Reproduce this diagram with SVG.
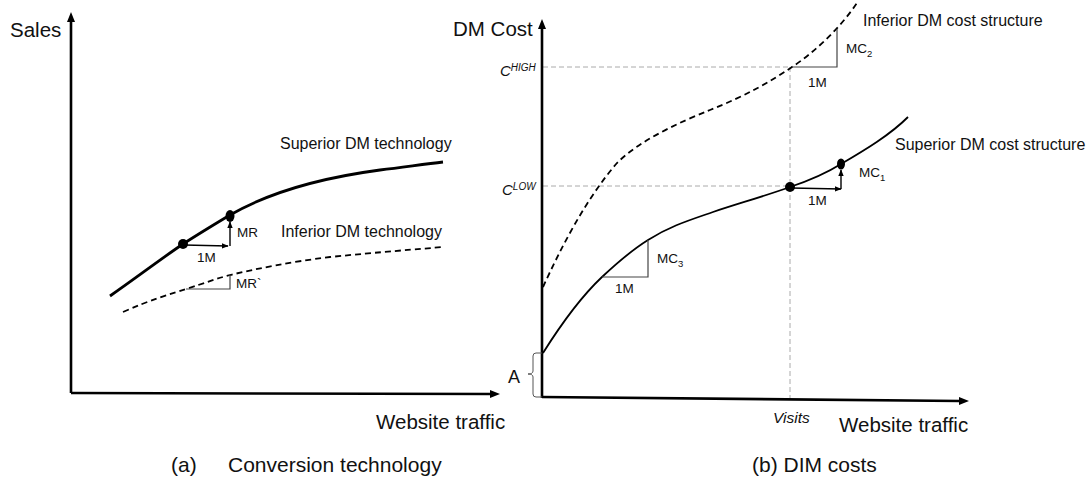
<svg xmlns="http://www.w3.org/2000/svg" width="1091" height="481" viewBox="0 0 1091 481">
<defs>
<marker id="sah" viewBox="0 0 10 10" refX="9" refY="5" markerWidth="5" markerHeight="5" orient="auto" markerUnits="strokeWidth"><path d="M0,1 L10,5 L0,9 z" fill="#000"/></marker>
</defs>
<style>
text{font-family:"Liberation Sans",Arial,sans-serif;fill:#111}
.ax{stroke:#000;stroke-width:2.6;fill:none}
.axh{fill:#000;stroke:none}
.big{font-size:20.5px}
.cap{font-size:21px}
.lbl{font-size:16px}
.sm{font-size:13.5px}
.it{font-style:italic}
.grid{stroke:#aaa;stroke-width:1;stroke-dasharray:5,3;fill:none}
.tri{stroke:#444;stroke-width:1.2;fill:none}
.arr{stroke:#000;stroke-width:1.4;fill:none;marker-end:url(#sah)}
.dash{stroke:#000;stroke-width:1.8;stroke-dasharray:6,4;fill:none}
</style>
<rect width="1091" height="481" fill="#fff"/>
<g id="panel-a">
<g id="a-axes">
<path class="ax" d="M71,393 V20"/>
<polygon class="axh" points="71,12 67,22 75,22"/>
<path class="ax" d="M71,393 L492,394"/>
<polygon class="axh" points="500,394 490,390 490,398"/>
</g>
<text class="big" x="10" y="37">Sales</text>
<text class="big" x="376" y="429">Website traffic</text>
<text class="cap" x="171" y="472">(a)</text>
<text class="cap" x="228" y="472">Conversion technology</text>
<g id="a-superior">
<path d="M110,296 C140,275 165,256 183,244 C200,233 215,224 230,215 C270,192 320,178 380,170 C405,167 425,164 443,162" stroke="#000" stroke-width="2.8" fill="none"/>
<text class="lbl" x="280" y="149">Superior DM technology</text>
</g>
<g id="a-inferior">
<path class="dash" d="M123,312 C150,300 170,294 186,289 C205,283 215,279 230,275 C260,268 290,262 330,257 C380,252 420,249 443,247"/>
<text class="lbl" x="281" y="237">Inferior DM technology</text>
</g>
<g id="a-mr">
<circle cx="183" cy="244" r="5" fill="#000"/>
<ellipse cx="230" cy="216" rx="4.5" ry="6" fill="#000"/>
<path class="arr" d="M184,245 L228,246"/>
<path class="arr" d="M230,246 L230,222"/>
<text class="sm" x="237" y="237">MR</text>
<text class="sm" x="197" y="262">1M</text>
</g>
<g id="a-mr2">
<path class="tri" d="M186,289 H230 V275"/>
<text class="sm" x="236" y="288">MR`</text>
</g>
</g>
<g id="panel-b">
<g id="b-grid">
<path class="grid" d="M543,67 H792"/>
<path class="grid" d="M543,186 H790"/>
<path class="grid" d="M790,67 V398"/>
</g>
<g id="b-axes">
<path class="ax" d="M542,398 V27"/>
<polygon class="axh" points="542,19 538,29 546,29"/>
<path class="ax" d="M542,397 L960,401"/>
<polygon class="axh" points="969,401 959,397 959,405"/>
</g>
<text class="big" x="453" y="36">DM Cost</text>
<text class="it" x="500" y="76" font-size="15">C<tspan font-size="10" dy="-5">HIGH</tspan></text>
<text class="it" x="502" y="195" font-size="15">C<tspan font-size="10" dy="-5">LOW</tspan></text>
<text x="508" y="383" font-size="18">A</text>
<path d="M542,353 H536 Q533,353 533,356 V371 Q533,374 528,374 Q533,374 533,377 V394 Q533,397 536,397 H542" stroke="#555" stroke-width="1" fill="none"/>
<text class="it" x="773" y="423" font-size="15.5">Visits</text>
<text class="big" x="839" y="432">Website traffic</text>
<text class="cap" x="752" y="472">(b) DIM costs</text>
<g id="b-inferior">
<path class="dash" d="M543,287 C560,250 585,200 617,163 C640,140 680,122 710,110 C745,96 770,82 792,67 C815,52 840,28 857,3"/>
<text class="lbl" x="863" y="26">Inferior DM cost structure</text>
</g>
<g id="b-superior">
<path d="M543,353 C565,318 585,293 602,277 C618,262 632,250 648,240 C670,226 690,220 713,212 C740,203 765,196 790,187 C808,181 825,174 841,164 C865,150 890,135 908,117" stroke="#000" stroke-width="1.8" fill="none"/>
<text class="lbl" x="895" y="150">Superior DM cost structure</text>
</g>
<g id="b-mc2">
<path class="tri" d="M792,67 H837 V29"/>
<text class="sm" x="846" y="53">MC<tspan font-size="9.5" dy="4">2</tspan></text>
<text class="sm" x="808" y="87">1M</text>
</g>
<g id="b-mc1">
<circle cx="790" cy="187" r="5" fill="#000"/>
<ellipse cx="841" cy="164" rx="4" ry="5.5" fill="#000"/>
<path class="arr" d="M791,188 L841,189"/>
<path class="arr" d="M841,189 L841,170"/>
<text class="sm" x="859" y="177">MC<tspan font-size="9.5" dy="4">1</tspan></text>
<text class="sm" x="808" y="205">1M</text>
</g>
<g id="b-mc3">
<path class="tri" d="M602,277 H648 V240"/>
<text class="sm" x="657" y="263">MC<tspan font-size="9.5" dy="4">3</tspan></text>
<text class="sm" x="615" y="293">1M</text>
</g>
</g>
</svg>
